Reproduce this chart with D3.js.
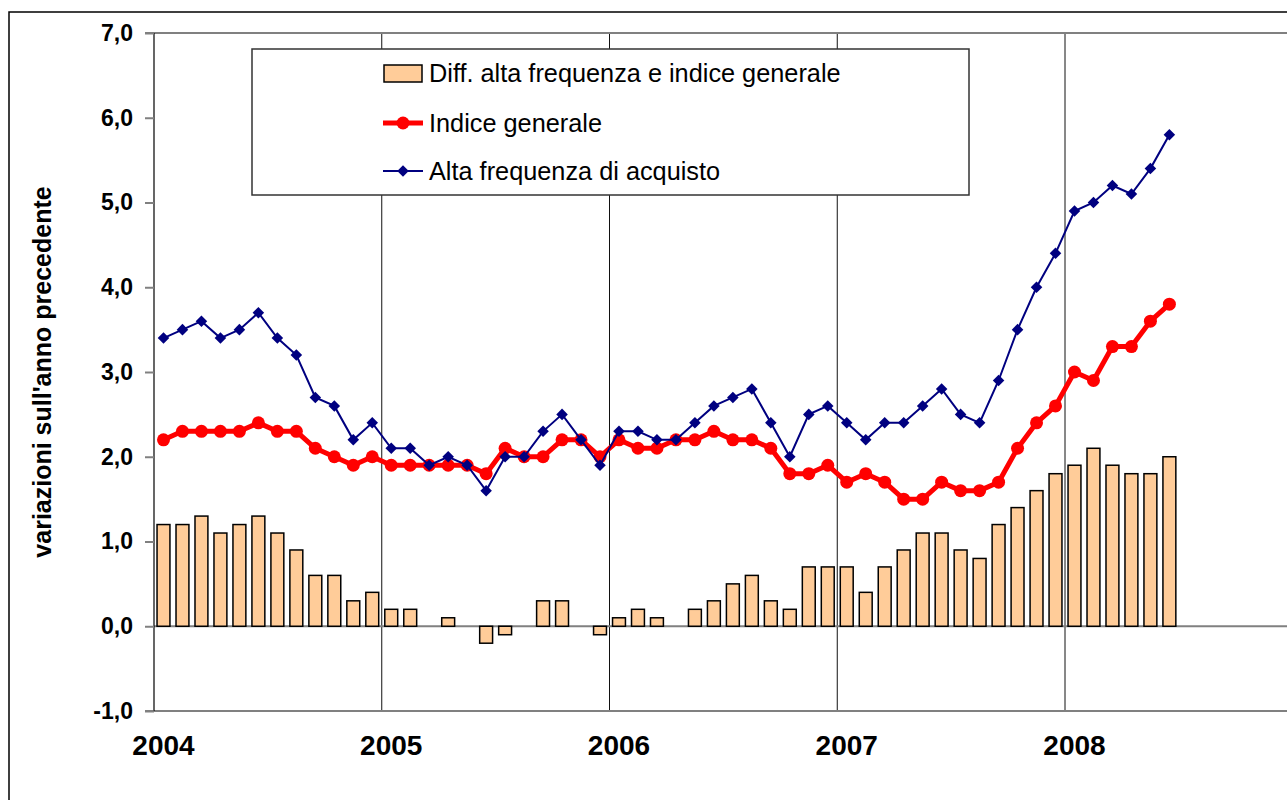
<!DOCTYPE html>
<html>
<head>
<meta charset="utf-8">
<script src="https://cdn.jsdelivr.net/npm/d3@7"></script>
<style>
    html, body { margin: 0; padding: 0; background: #fff; }
    svg { display: block; }
</style>
</head>
<body>
<div id="chart"></div>
<script>
// Years on the category axis (monthly data, labels on January)
const years = ['2004', '2005', '2006', '2007', '2008'];
const monthsPerYear = 12;
const axisYears = 5; // axis runs to end of 2008

// Y axis ticks
const yTicks = [-1, 0, 1, 2, 3, 4, 5, 6, 7];

// Alta frequenza di acquisto (Jan 2004 - Jun 2008)
const altaFrequenza = [
    3.4, 3.5, 3.6, 3.4, 3.5, 3.7, 3.4, 3.2, 2.7, 2.6, 2.2, 2.4,
    2.1, 2.1, 1.9, 2.0, 1.9, 1.6, 2.0, 2.0, 2.3, 2.5, 2.2, 1.9,
    2.3, 2.3, 2.2, 2.2, 2.4, 2.6, 2.7, 2.8, 2.4, 2.0, 2.5, 2.6,
    2.4, 2.2, 2.4, 2.4, 2.6, 2.8, 2.5, 2.4, 2.9, 3.5, 4.0, 4.4,
    4.9, 5.0, 5.2, 5.1, 5.4, 5.8
];

// Indice generale
const indiceGenerale = [
    2.2, 2.3, 2.3, 2.3, 2.3, 2.4, 2.3, 2.3, 2.1, 2.0, 1.9, 2.0,
    1.9, 1.9, 1.9, 1.9, 1.9, 1.8, 2.1, 2.0, 2.0, 2.2, 2.2, 2.0,
    2.2, 2.1, 2.1, 2.2, 2.2, 2.3, 2.2, 2.2, 2.1, 1.8, 1.8, 1.9,
    1.7, 1.8, 1.7, 1.5, 1.5, 1.7, 1.6, 1.6, 1.7, 2.1, 2.4, 2.6,
    3.0, 2.9, 3.3, 3.3, 3.6, 3.8
];

// Diff. alta frequenza e indice generale
const differenza = [
    1.2, 1.2, 1.3, 1.1, 1.2, 1.3, 1.1, 0.9, 0.6, 0.6, 0.3, 0.4,
    0.2, 0.2, 0.0, 0.1, 0.0, -0.2, -0.1, 0.0, 0.3, 0.3, 0.0, -0.1,
    0.1, 0.2, 0.1, 0.0, 0.2, 0.3, 0.5, 0.6, 0.3, 0.2, 0.7, 0.7,
    0.7, 0.4, 0.7, 0.9, 1.1, 1.1, 0.9, 0.8, 1.2, 1.4, 1.6, 1.8,
    1.9, 2.1, 1.9, 1.8, 1.8, 2.0
];

const legendLabels = [
    'Diff. alta frequenza e indice generale',
    'Indice generale',
    'Alta frequenza di acquisto'
];

// Layout
const width = 1287;
const height = 800;
const plot = { left: 154, top: 33, bottom: 711, yearWidth: 227.75 };
const fontFamily = '"Liberation Sans", Arial, Helvetica, sans-serif';
const barColor = '#FFCC99';
const redColor = '#FF0000';
const blueColor = '#000080';

// Month categories for the whole axis
const months = [];
for (let y = 0; y < axisYears; y++) {
    for (let m = 0; m < monthsPerYear; m++) {
        months.push(`${2004 + y}-${m + 1}`);
    }
}

const svg = d3.select('#chart')
    .append('svg')
    .attr('width', width)
    .attr('height', height);

// Outer chart frame (cut off at right/bottom like the original)
svg.append('rect')
    .attr('x', 9)
    .attr('y', 12)
    .attr('width', width + 20)
    .attr('height', height + 20)
    .attr('fill', '#fff')
    .attr('stroke', '#000')
    .attr('stroke-width', 1.5);

// Scales
const x = d3.scaleBand()
    .domain(months)
    .range([plot.left, plot.left + axisYears * plot.yearWidth])
    .paddingInner(0.32)
    .paddingOuter(0.16);

const y = d3.scaleLinear()
    .domain([-1, 7])
    .range([plot.bottom, plot.top]);

const cx = i => x(months[i]) + x.bandwidth() / 2;

// Year gridlines (at January boundaries)
years.slice(1).forEach((yr, i) => {
    const gx = plot.left + (i + 1) * plot.yearWidth;
    svg.append('line')
        .attr('x1', gx).attr('x2', gx)
        .attr('y1', plot.top).attr('y2', plot.bottom)
        .attr('stroke', '#111')
        .attr('stroke-width', 1);
});

// Top border, zero line and bottom axis (gray)
[7, 0, -1].forEach(v => {
    svg.append('line')
        .attr('x1', v === 0 ? plot.left : plot.left - 9)
        .attr('x2', width + 10)
        .attr('y1', y(v)).attr('y2', y(v))
        .attr('stroke', '#808080')
        .attr('stroke-width', 2);
});

// Y axis
const yAxis = d3.axisLeft(y)
    .tickValues(yTicks)
    .tickSize(9)
    .tickPadding(12)
    .tickFormat(d => d3.format('.1f')(d).replace('.', ',').replace('\u2212', '-'));

const yAxisG = svg.append('g')
    .attr('transform', `translate(${plot.left},0)`)
    .call(yAxis);

yAxisG.select('.domain')
    .attr('stroke', '#000')
    .attr('stroke-width', 1.2)
    .attr('d', `M0,${plot.top}V${plot.bottom}`);

yAxisG.selectAll('.tick line')
    .attr('stroke', '#808080')
    .attr('stroke-width', 2);

yAxisG.selectAll('.tick text')
    .attr('fill', '#000')
    .style('font-family', fontFamily)
    .style('font-size', '23px')
    .style('font-weight', 'bold');

// X labels: years centred on the January band
years.forEach((yr, i) => {
    svg.append('text')
        .attr('x', cx(i * monthsPerYear))
        .attr('y', 755)
        .attr('text-anchor', 'middle')
        .style('font-family', fontFamily)
        .style('font-size', '28px')
        .style('font-weight', 'bold')
        .text(yr);
});

// Y axis title
svg.append('text')
    .attr('transform', 'translate(51,372) rotate(-90)')
    .attr('text-anchor', 'middle')
    .style('font-family', fontFamily)
    .style('font-size', '25px')
    .style('font-weight', 'bold')
    .text('variazioni sull\'anno precedente');

// Legend box (drawn before series so it hides the gridlines)
const legend = svg.append('g').attr('class', 'legend');
legend.append('rect')
    .attr('x', 252)
    .attr('y', 49)
    .attr('width', 717)
    .attr('height', 146)
    .attr('fill', '#fff')
    .attr('stroke', '#333')
    .attr('stroke-width', 1.5);

// Bars: difference
svg.append('g')
    .selectAll('rect')
    .data(differenza)
    .enter()
    .append('rect')
    .attr('x', (d, i) => x(months[i]))
    .attr('width', x.bandwidth())
    .attr('y', d => y(Math.max(0, d)))
    .attr('height', d => Math.abs(y(d) - y(0)))
    .attr('fill', barColor)
    .attr('stroke', '#000')
    .attr('stroke-width', 1.5);

// Line generator
const line = d3.line()
    .x((d, i) => cx(i))
    .y(d => y(d));

// Indice generale: thick red line with round markers
svg.append('path')
    .datum(indiceGenerale)
    .attr('d', line)
    .attr('fill', 'none')
    .attr('stroke', redColor)
    .attr('stroke-width', 5)
    .attr('stroke-linejoin', 'round');

svg.append('g')
    .selectAll('circle')
    .data(indiceGenerale)
    .enter()
    .append('circle')
    .attr('cx', (d, i) => cx(i))
    .attr('cy', d => y(d))
    .attr('r', 6.5)
    .attr('fill', redColor);

// Alta frequenza: thin navy line with diamond markers
svg.append('path')
    .datum(altaFrequenza)
    .attr('d', line)
    .attr('fill', 'none')
    .attr('stroke', blueColor)
    .attr('stroke-width', 2);

const diamond = d3.symbol().type(d3.symbolDiamond2).size(85);

svg.append('g')
    .selectAll('path')
    .data(altaFrequenza)
    .enter()
    .append('path')
    .attr('d', diamond)
    .attr('transform', (d, i) => `translate(${cx(i)},${y(d)})`)
    .attr('fill', blueColor);

// Legend entries
const legendRows = [73, 123, 171];
const textX = 429;

legend.append('rect')
    .attr('x', 384)
    .attr('y', legendRows[0] - 8)
    .attr('width', 38)
    .attr('height', 17)
    .attr('fill', barColor)
    .attr('stroke', '#000')
    .attr('stroke-width', 1.5);

legend.append('line')
    .attr('x1', 383).attr('x2', 423)
    .attr('y1', legendRows[1]).attr('y2', legendRows[1])
    .attr('stroke', redColor)
    .attr('stroke-width', 5);
legend.append('circle')
    .attr('cx', 403).attr('cy', legendRows[1])
    .attr('r', 6.5)
    .attr('fill', redColor);

legend.append('line')
    .attr('x1', 383).attr('x2', 423)
    .attr('y1', legendRows[2]).attr('y2', legendRows[2])
    .attr('stroke', blueColor)
    .attr('stroke-width', 2);
legend.append('path')
    .attr('d', diamond)
    .attr('transform', `translate(403,${legendRows[2]})`)
    .attr('fill', blueColor);

legendLabels.forEach((label, i) => {
    legend.append('text')
        .attr('x', textX)
        .attr('y', legendRows[i])
        .attr('dy', '0.35em')
        .style('font-family', fontFamily)
        .style('font-size', '25.3px')
        .style('fill', '#000')
        .text(label);
});
</script>
</body>
</html>
